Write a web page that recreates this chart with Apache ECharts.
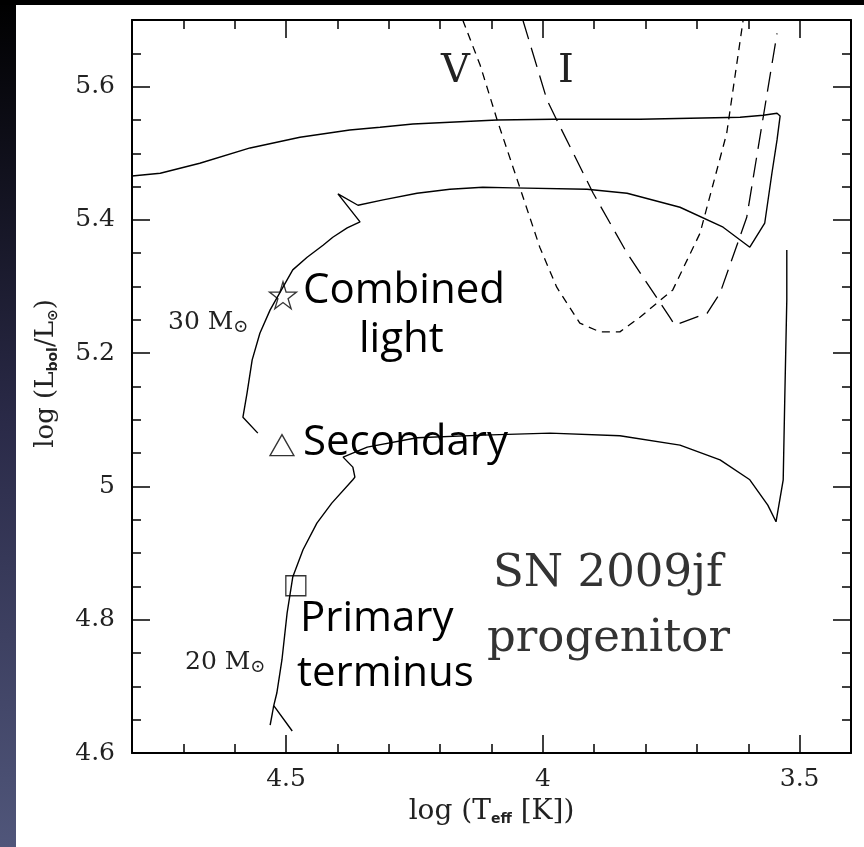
<!DOCTYPE html>
<html>
<head>
<meta charset="utf-8">
<script src="https://cdn.jsdelivr.net/npm/echarts@6/dist/echarts.min.js"></script>
<style>
  html, body { margin: 0; padding: 0; background: #fff; }
  #hrd { width: 864px; height: 847px; }
</style>
</head>
<body>
<div id="hrd"></div>
<script>
(function() {
	'use strict';

	/* tick labels */
	var xMajor = [4.5, 4, 3.5];
	var yMajor = [4.6, 4.8, 5, 5.2, 5.4, 5.6];

	/* 30 Msun track */
	var track30LogT = [4.555, 4.584, 4.576, 4.566, 4.551, 4.531, 4.506, 4.487, 4.459, 4.428, 4.409, 4.381, 4.356,
		4.399, 4.360, 4.311, 4.245, 4.181, 4.117, 4.058, 3.914, 3.836, 3.733, 3.649, 3.597,
		3.568, 3.554, 3.544, 3.538, 3.544, 3.571, 3.616, 3.811, 3.980, 4.089, 4.253, 4.317,
		4.376, 4.473, 4.570, 4.668, 4.745, 4.8];
	var track30LogL = [5.080, 5.104, 5.140, 5.190, 5.230, 5.265, 5.299, 5.325, 5.344, 5.362, 5.374, 5.388, 5.397,
		5.439, 5.422, 5.430, 5.440, 5.446, 5.449, 5.448, 5.446, 5.440, 5.419, 5.389, 5.359,
		5.395, 5.470, 5.520, 5.556, 5.560, 5.557, 5.554, 5.551, 5.551, 5.550, 5.544, 5.539,
		5.535, 5.524, 5.508, 5.485, 5.470, 5.466];

	/* 20 Msun track */
	var track20LogT = [4.488, 4.524, 4.518, 4.508, 4.498, 4.487, 4.467, 4.440, 4.411, 4.370, 4.366, 4.370, 4.389,
		4.391, 4.342, 4.245, 4.117, 3.986, 3.850, 3.733, 3.655, 3.597, 3.562, 3.546,
		3.532, 3.529, 3.525, 3.525];
	var track20LogL = [4.633, 4.671, 4.690, 4.740, 4.810, 4.864, 4.905, 4.945, 4.975, 5.010, 5.014, 5.029, 5.044,
		5.046, 5.059, 5.073, 5.077, 5.080, 5.076, 5.062, 5.040, 5.010, 4.972, 4.947,
		5.010, 5.130, 5.280, 5.355];
	var track20StartLogT = [4.524, 4.531];
	var track20StartLogL = [4.671, 4.642];

	/* detection limits */
	var limitVLogT = [4.156, 4.122, 4.089, 4.045, 4.006, 3.973, 3.928, 3.889, 3.850, 3.811, 3.747, 3.694, 3.642, 3.610];
	var limitVLogL = [5.700, 5.632, 5.550, 5.449, 5.359, 5.299, 5.245, 5.232, 5.232, 5.254, 5.295, 5.380, 5.530, 5.700];
	var limitILogT = [4.039, 3.992, 3.973, 3.902, 3.836, 3.753, 3.743, 3.680, 3.655, 3.603, 3.571, 3.544];
	var limitILogL = [5.700, 5.580, 5.550, 5.440, 5.350, 5.254, 5.242, 5.260, 5.290, 5.404, 5.554, 5.680];

	/* progenitor points */
	var combinedPoint = [4.506, 5.287];
	var secondaryPoint = [4.508, 5.062];
	var primaryPoint = [4.481, 4.851];

	function zip(a, b) {
		return a.map(function(v, i) { return [v, b[i]]; });
	}
	function steps(from, to, step) {
		var out = [];
		for (var v = from; v <= to + 1e-9; v += step) out.push(Math.round(v * 1000) / 1000);
		return out;
	}

	var serif = 'DejaVu Serif';
	var frame = { show: true, lineStyle: { color: '#000', width: 2 } };

	function xAxis(pos, ticks, len, line, labels) {
		return {
			type: 'value', position: pos, min: 3.4, max: 4.8, inverse: true,
			axisLine: line ? frame : { show: false },
			axisTick: { inside: true, length: len, customValues: ticks, lineStyle: { color: '#000', width: 1.5 } },
			axisLabel: labels ? { customValues: ticks, margin: 14, fontFamily: serif, fontSize: 25, color: '#222' }
				: { show: false, customValues: ticks },
			splitLine: { show: false }
		};
	}
	function yAxis(pos, ticks, len, line, labels) {
		return {
			type: 'value', position: pos, min: 4.6, max: 5.7,
			axisLine: line ? frame : { show: false },
			axisTick: { inside: true, length: len, customValues: ticks, lineStyle: { color: '#000', width: 1.5 } },
			axisLabel: labels ? { customValues: ticks, margin: 17, fontFamily: serif, fontSize: 25, color: '#222' }
				: { show: false, customValues: ticks },
			splitLine: { show: false }
		};
	}

	var xMinor = steps(3.4, 4.8, 0.1);
	var yMinor = steps(4.6, 5.7, 0.05);

	var xAxes = [
		xAxis('bottom', xMajor, 18, true, true),
		xAxis('bottom', xMinor, 9, false, false),
		xAxis('top', xMajor, 18, true, false),
		xAxis('top', xMinor, 9, false, false)
	];
	xAxes[0].name = 'log (T{sub|eff} [K])';
	xAxes[0].nameLocation = 'middle';
	xAxes[0].nameGap = 44;
	xAxes[0].nameTextStyle = {
		fontFamily: serif, fontSize: 28, color: '#222',
		rich: { sub: { fontFamily: 'DejaVu Sans', fontWeight: 'bold', fontSize: 14, padding: [15, 0, 0, 0] } }
	};

	var yAxes = [
		yAxis('left', yMajor, 18, true, true),
		yAxis('left', yMinor, 9, false, false),
		yAxis('right', yMajor, 18, true, false),
		yAxis('right', yMinor, 9, false, false)
	];
	yAxes[0].name = 'log (L{sub|bol}/L{sub|⊙})';
	yAxes[0].nameLocation = 'middle';
	yAxes[0].nameRotate = 90;
	yAxes[0].nameGap = 72;
	yAxes[0].nameTextStyle = {
		fontFamily: serif, fontSize: 26, color: '#222', padding: [0, 0, 0, 26],
		rich: { sub: { fontFamily: 'DejaVu Sans', fontWeight: 'bold', fontSize: 14, padding: [14, 0, 0, 0] } }
	};

	function track(data) {
		return {
			type: 'line', data: data, showSymbol: false, silent: true,
			lineStyle: { color: '#000', width: 1.4 }, z: 3
		};
	}
	function limit(data, dash) {
		return {
			type: 'line', data: data, showSymbol: false, silent: true,
			lineStyle: { color: '#000', width: 1.3, type: dash }, z: 3
		};
	}
	function marker(point, symbol, size) {
		return {
			type: 'scatter', data: [point], symbol: symbol, symbolSize: size, silent: true,
			itemStyle: { color: 'rgba(0,0,0,0)', borderColor: '#000', borderWidth: 1.3 }, z: 4
		};
	}

	var star = 'path://M50,0 L61,35 L98,35 L68,57 L79,91 L50,70 L21,91 L32,57 L2,35 L39,35 Z';

	var sans = 'Open Sans';
	function note(text, x, y, family, size, color) {
		return {
			type: 'text', x: x, y: y, z: 10,
			style: {
				text: text, fontFamily: family, fontSize: size, fill: color || '#000',
				align: 'left', verticalAlign: 'middle',
				rich: { sub: { fontFamily: family, fontSize: Math.round(size * 0.7), padding: [10, 0, 0, 0] } }
			}
		};
	}

	var option = {
		backgroundColor: '#fff',
		animation: false,
		grid: { left: 132, right: 13, top: 20, bottom: 94 },
		xAxis: xAxes,
		yAxis: yAxes,
		series: [
			track(zip(track30LogT, track30LogL)),
			track(zip(track20LogT, track20LogL)),
			track(zip(track20StartLogT, track20StartLogL)),
			limit(zip(limitVLogT, limitVLogL), [8, 6]),
			limit(zip(limitILogT, limitILogL), [20, 9]),
			marker(combinedPoint, star, 27),
			marker(secondaryPoint, 'triangle', [24, 21]),
			marker(primaryPoint, 'rect', 20)
		],
		graphic: [
			{ type: 'rect', shape: { x: 0, y: 0, width: 16, height: 847 }, z: 20,
			  style: { fill: new echarts.graphic.LinearGradient(0, 0, 0, 1, [
				{ offset: 0, color: '#000000' }, { offset: 0.5, color: '#2a2a48' }, { offset: 1, color: '#50567a' }]) } },
			{ type: 'rect', shape: { x: 0, y: 0, width: 864, height: 5 }, z: 20, style: { fill: '#000' } },
			note('Combined', 303, 291, sans, 42),
			note('light', 359, 340, sans, 42),
			note('Secondary', 303, 443, sans, 42),
			note('Primary', 300, 619, sans, 42),
			note('terminus', 297, 674, sans, 42),
			note('SN 2009jf', 493, 574, serif, 45, '#333'),
			note('progenitor', 487, 639, serif, 45, '#333'),
			note('V', 441, 72, serif, 40, '#222'),
			note('I', 558, 72, serif, 40, '#222'),
			note('30 M{sub|⊙}', 168, 322, serif, 25, '#222'),
			note('20 M{sub|⊙}', 185, 662, serif, 25, '#222')
		]
	};

	var chart = echarts.init(document.getElementById('hrd'));
	chart.setOption(option);
})();
</script>
</body>
</html>
